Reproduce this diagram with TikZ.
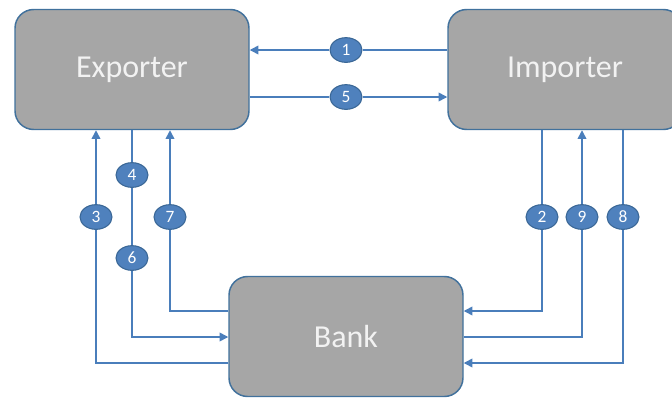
\documentclass[tikz,border=0pt]{standalone}
\usepackage{fontspec}
\setmainfont{Carlito}
\usetikzlibrary{arrows.meta, shapes.geometric}
\definecolor{flowblue}{HTML}{4A7EBB}
\definecolor{numblue}{HTML}{4F81BD}
\definecolor{numedge}{HTML}{3A6796}
\definecolor{boxgrey}{HTML}{A6A6A6}
\definecolor{boxedge}{HTML}{41719C}

\begin{document}
\begin{tikzpicture}[x=0.75pt, y=-0.75pt,
    party/.style={draw=boxedge, fill=boxgrey, rounded corners=14pt, line width=1.1pt,
      minimum width=175.5pt, minimum height=90pt, text=white!95!black,
      font=\fontsize{24}{28}\selectfont},
    num/.style={ellipse, draw=numedge, fill=numblue, line width=0.8pt, inner sep=0pt,
      minimum width=24pt, minimum height=18.5pt, text=white, font=\fontsize{13}{15}\selectfont},
    flow/.style={draw=flowblue, line width=1.1pt},
    tip/.style={-{Triangle[length=6.5pt, width=6.5pt]}}]
      \useasboundingbox (0,0) rectangle (672,397);
      % the three parties
      \node[party] (exporter) at (132,69.5) {Exporter};
      \node[party] (importer) at (565,69.5) {Importer};
      \node[party] (bank) at (346,336.5) {Bank};
      % rows where lines meet the bank
      \coordinate (rowA) at (0,311);
      \coordinate (rowB) at (0,337);
      \coordinate (rowC) at (0,363);
      % step numbers
      \node[num] (n1) at (346,50) {1};
      \node[num] (n5) at (346,97) {5};
      \node[num] (n4) at (132,175) {4};
      \node[num] (n6) at (132,258) {6};
      \node[num] (n3) at (96,217) {3};
      \node[num] (n7) at (170,217) {7};
      \node[num] (n2) at (542,217) {2};
      \node[num] (n9) at (582,217) {9};
      \node[num] (n8) at (623,217) {8};
      % exporter <-> importer
      \draw[flow] (importer.west |- n1) -- (n1);
      \draw[flow, tip] (n1) -- (exporter.east |- n1);
      \draw[flow] (exporter.east |- n5) -- (n5);
      \draw[flow, tip] (n5) -- (importer.west |- n5);
      % exporter <-> bank
      \draw[flow] (bank.west |- rowC) -| (n3);
      \draw[flow, tip] (n3) -- (exporter.south -| n3);
      \draw[flow] (bank.west |- rowA) -| (n7);
      \draw[flow, tip] (n7) -- (exporter.south -| n7);
      \draw[flow] (exporter.south -| n4) -- (n4);
      \draw[flow] (n4) -- (n6);
      \draw[flow, tip] (n6) |- (bank.west |- rowB);
      % importer <-> bank
      \draw[flow] (importer.south -| n2) -- (n2);
      \draw[flow, tip] (n2) |- (bank.east |- rowA);
      \draw[flow] (bank.east |- rowB) -| (n9);
      \draw[flow, tip] (n9) -- (importer.south -| n9);
      \draw[flow] (importer.south -| n8) -- (n8);
      \draw[flow, tip] (n8) |- (bank.east |- rowC);
\end{tikzpicture}
\end{document}
